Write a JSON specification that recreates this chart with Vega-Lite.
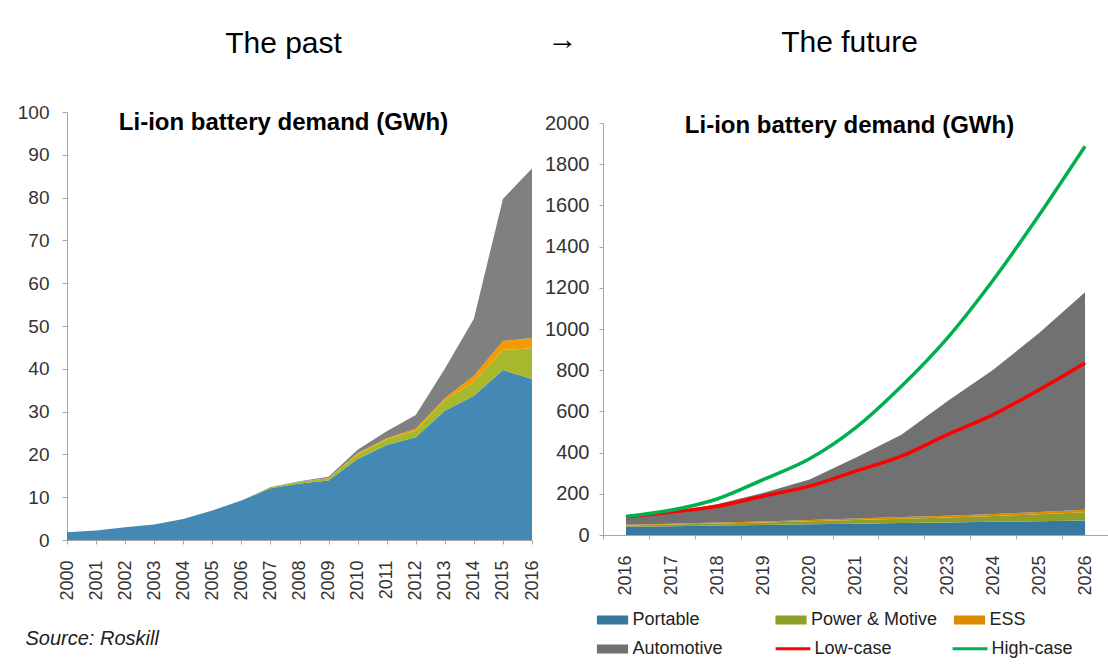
{
  "$schema": "https://vega.github.io/schema/vega-lite/v6.json",
  "background": "white",
  "padding": {"left": 17, "top": 25, "right": 0, "bottom": 0},
  "config": {
    "view": {"stroke": null},
    "font": "Liberation Sans",
    "title": {"font": "Liberation Sans", "color": "#000000", "subtitleFont": "Liberation Sans", "subtitleColor": "#000000"},
    "axis": {"domainColor": "#a6a6a6", "tickColor": "#a6a6a6", "labelColor": "#333333", "grid": false, "labelFont": "Liberation Sans"}
  },
  "datasets": {
    "past": [
      {"year": "2000", "series": "Portable", "k": 1, "value": 1.8}, {"year": "2000", "series": "Power & Motive", "k": 2, "value": 0}, {"year": "2000", "series": "ESS", "k": 3, "value": 0}, {"year": "2000", "series": "Automotive", "k": 4, "value": 0},
      {"year": "2001", "series": "Portable", "k": 1, "value": 2.2}, {"year": "2001", "series": "Power & Motive", "k": 2, "value": 0}, {"year": "2001", "series": "ESS", "k": 3, "value": 0}, {"year": "2001", "series": "Automotive", "k": 4, "value": 0},
      {"year": "2002", "series": "Portable", "k": 1, "value": 3.0}, {"year": "2002", "series": "Power & Motive", "k": 2, "value": 0}, {"year": "2002", "series": "ESS", "k": 3, "value": 0}, {"year": "2002", "series": "Automotive", "k": 4, "value": 0},
      {"year": "2003", "series": "Portable", "k": 1, "value": 3.6}, {"year": "2003", "series": "Power & Motive", "k": 2, "value": 0}, {"year": "2003", "series": "ESS", "k": 3, "value": 0}, {"year": "2003", "series": "Automotive", "k": 4, "value": 0},
      {"year": "2004", "series": "Portable", "k": 1, "value": 4.9}, {"year": "2004", "series": "Power & Motive", "k": 2, "value": 0}, {"year": "2004", "series": "ESS", "k": 3, "value": 0}, {"year": "2004", "series": "Automotive", "k": 4, "value": 0},
      {"year": "2005", "series": "Portable", "k": 1, "value": 6.9}, {"year": "2005", "series": "Power & Motive", "k": 2, "value": 0}, {"year": "2005", "series": "ESS", "k": 3, "value": 0}, {"year": "2005", "series": "Automotive", "k": 4, "value": 0},
      {"year": "2006", "series": "Portable", "k": 1, "value": 9.2}, {"year": "2006", "series": "Power & Motive", "k": 2, "value": 0}, {"year": "2006", "series": "ESS", "k": 3, "value": 0}, {"year": "2006", "series": "Automotive", "k": 4, "value": 0},
      {"year": "2007", "series": "Portable", "k": 1, "value": 12.1}, {"year": "2007", "series": "Power & Motive", "k": 2, "value": 0.3}, {"year": "2007", "series": "ESS", "k": 3, "value": 0}, {"year": "2007", "series": "Automotive", "k": 4, "value": 0},
      {"year": "2008", "series": "Portable", "k": 1, "value": 13.2}, {"year": "2008", "series": "Power & Motive", "k": 2, "value": 0.4}, {"year": "2008", "series": "ESS", "k": 3, "value": 0}, {"year": "2008", "series": "Automotive", "k": 4, "value": 0.1},
      {"year": "2009", "series": "Portable", "k": 1, "value": 13.9}, {"year": "2009", "series": "Power & Motive", "k": 2, "value": 0.5}, {"year": "2009", "series": "ESS", "k": 3, "value": 0.1}, {"year": "2009", "series": "Automotive", "k": 4, "value": 0.3},
      {"year": "2010", "series": "Portable", "k": 1, "value": 18.9}, {"year": "2010", "series": "Power & Motive", "k": 2, "value": 1.1}, {"year": "2010", "series": "ESS", "k": 3, "value": 0.3}, {"year": "2010", "series": "Automotive", "k": 4, "value": 0.8},
      {"year": "2011", "series": "Portable", "k": 1, "value": 22.2}, {"year": "2011", "series": "Power & Motive", "k": 2, "value": 1.3}, {"year": "2011", "series": "ESS", "k": 3, "value": 0.3}, {"year": "2011", "series": "Automotive", "k": 4, "value": 1.6},
      {"year": "2012", "series": "Portable", "k": 1, "value": 24.0}, {"year": "2012", "series": "Power & Motive", "k": 2, "value": 1.6}, {"year": "2012", "series": "ESS", "k": 3, "value": 0.4}, {"year": "2012", "series": "Automotive", "k": 4, "value": 3.2},
      {"year": "2013", "series": "Portable", "k": 1, "value": 30.2}, {"year": "2013", "series": "Power & Motive", "k": 2, "value": 2.4}, {"year": "2013", "series": "ESS", "k": 3, "value": 0.5}, {"year": "2013", "series": "Automotive", "k": 4, "value": 6.9},
      {"year": "2014", "series": "Portable", "k": 1, "value": 33.7}, {"year": "2014", "series": "Power & Motive", "k": 2, "value": 3.3}, {"year": "2014", "series": "ESS", "k": 3, "value": 1.4}, {"year": "2014", "series": "Automotive", "k": 4, "value": 13.3},
      {"year": "2015", "series": "Portable", "k": 1, "value": 39.7}, {"year": "2015", "series": "Power & Motive", "k": 2, "value": 4.7}, {"year": "2015", "series": "ESS", "k": 3, "value": 2.1}, {"year": "2015", "series": "Automotive", "k": 4, "value": 33.2},
      {"year": "2016", "series": "Portable", "k": 1, "value": 37.6}, {"year": "2016", "series": "Power & Motive", "k": 2, "value": 7.2}, {"year": "2016", "series": "ESS", "k": 3, "value": 2.4}, {"year": "2016", "series": "Automotive", "k": 4, "value": 39.6}
    ],
    "future": [
      {"year": "2016", "series": "Portable", "k": 1, "value": 40}, {"year": "2016", "series": "Power & Motive", "k": 2, "value": 6}, {"year": "2016", "series": "ESS", "k": 3, "value": 4}, {"year": "2016", "series": "Automotive", "k": 4, "value": 37},
      {"year": "2017", "series": "Portable", "k": 1, "value": 43}, {"year": "2017", "series": "Power & Motive", "k": 2, "value": 8}, {"year": "2017", "series": "ESS", "k": 3, "value": 4}, {"year": "2017", "series": "Automotive", "k": 4, "value": 57},
      {"year": "2018", "series": "Portable", "k": 1, "value": 46}, {"year": "2018", "series": "Power & Motive", "k": 2, "value": 10}, {"year": "2018", "series": "ESS", "k": 3, "value": 5}, {"year": "2018", "series": "Automotive", "k": 4, "value": 89},
      {"year": "2019", "series": "Portable", "k": 1, "value": 49}, {"year": "2019", "series": "Power & Motive", "k": 2, "value": 12}, {"year": "2019", "series": "ESS", "k": 3, "value": 5}, {"year": "2019", "series": "Automotive", "k": 4, "value": 139},
      {"year": "2020", "series": "Portable", "k": 1, "value": 52}, {"year": "2020", "series": "Power & Motive", "k": 2, "value": 15}, {"year": "2020", "series": "ESS", "k": 3, "value": 6}, {"year": "2020", "series": "Automotive", "k": 4, "value": 197},
      {"year": "2021", "series": "Portable", "k": 1, "value": 55}, {"year": "2021", "series": "Power & Motive", "k": 2, "value": 18}, {"year": "2021", "series": "ESS", "k": 3, "value": 7}, {"year": "2021", "series": "Automotive", "k": 4, "value": 295},
      {"year": "2022", "series": "Portable", "k": 1, "value": 58}, {"year": "2022", "series": "Power & Motive", "k": 2, "value": 21}, {"year": "2022", "series": "ESS", "k": 3, "value": 8}, {"year": "2022", "series": "Automotive", "k": 4, "value": 400},
      {"year": "2023", "series": "Portable", "k": 1, "value": 61}, {"year": "2023", "series": "Power & Motive", "k": 2, "value": 24}, {"year": "2023", "series": "ESS", "k": 3, "value": 9}, {"year": "2023", "series": "Automotive", "k": 4, "value": 555},
      {"year": "2024", "series": "Portable", "k": 1, "value": 64}, {"year": "2024", "series": "Power & Motive", "k": 2, "value": 28}, {"year": "2024", "series": "ESS", "k": 3, "value": 10}, {"year": "2024", "series": "Automotive", "k": 4, "value": 700},
      {"year": "2025", "series": "Portable", "k": 1, "value": 67}, {"year": "2025", "series": "Power & Motive", "k": 2, "value": 34}, {"year": "2025", "series": "ESS", "k": 3, "value": 11}, {"year": "2025", "series": "Automotive", "k": 4, "value": 868},
      {"year": "2026", "series": "Portable", "k": 1, "value": 70}, {"year": "2026", "series": "Power & Motive", "k": 2, "value": 40}, {"year": "2026", "series": "ESS", "k": 3, "value": 13}, {"year": "2026", "series": "Automotive", "k": 4, "value": 1055}
    ],
    "cases": [
      {"year": "2016", "series": "Low-case", "value": 88}, {"year": "2017", "series": "Low-case", "value": 111}, {"year": "2018", "series": "Low-case", "value": 140}, {"year": "2019", "series": "Low-case", "value": 189}, {"year": "2020", "series": "Low-case", "value": 237}, {"year": "2021", "series": "Low-case", "value": 310}, {"year": "2022", "series": "Low-case", "value": 383}, {"year": "2023", "series": "Low-case", "value": 487}, {"year": "2024", "series": "Low-case", "value": 584}, {"year": "2025", "series": "Low-case", "value": 705}, {"year": "2026", "series": "Low-case", "value": 835},
      {"year": "2016", "series": "High-case", "value": 90}, {"year": "2017", "series": "High-case", "value": 121}, {"year": "2018", "series": "High-case", "value": 176}, {"year": "2019", "series": "High-case", "value": 270}, {"year": "2020", "series": "High-case", "value": 370}, {"year": "2021", "series": "High-case", "value": 520}, {"year": "2022", "series": "High-case", "value": 722}, {"year": "2023", "series": "High-case", "value": 956}, {"year": "2024", "series": "High-case", "value": 1238}, {"year": "2025", "series": "High-case", "value": 1553}, {"year": "2026", "series": "High-case", "value": 1887}
    ],
    "blank": [{"v": ""}]
  },
  "bounds": "flush",
  "spacing": 30,
  "resolve": {"scale": {"fill": "independent", "stroke": "independent", "x": "independent", "y": "independent"}},
  "hconcat": [
    {
      "width": 465,
      "height": 428,
      "title": {"text": "The past", "subtitle": "Li-ion battery demand (GWh)", "fontSize": 30, "fontWeight": "normal", "subtitleFontSize": 24, "subtitleFontWeight": "bold", "subtitlePadding": 52, "offset": -32, "anchor": "middle", "dx": -16},
      "data": {"name": "past"},
      "mark": {"type": "area", "interpolate": "linear"},
      "encoding": {
        "x": {"field": "year", "type": "ordinal", "scale": {"type": "point", "padding": 0},
          "axis": {"labelAngle": -90, "labelFontSize": 18, "labelPadding": 16, "tickSize": 4, "title": "Source: Roskill", "titleFontSize": 20, "titleFontStyle": "italic", "titleFontWeight": "normal", "titleColor": "#222222", "titleAlign": "left", "titleBaseline": "middle", "titleAnchor": "start", "titleX": -42, "titleY": 98}},
        "y": {"field": "value", "type": "quantitative", "stack": "zero", "scale": {"domain": [0, 100]},
          "axis": {"values": [0, 10, 20, 30, 40, 50, 60, 70, 80, 90, 100], "title": null, "labelFontSize": 19, "labelPadding": 13, "tickSize": 5, "labelFlush": false}},
        "fill": {"field": "series", "type": "nominal", "scale": {"domain": ["Portable", "Power & Motive", "ESS", "Automotive"], "range": ["#4389b4", "#a6b82c", "#f59b00", "#808080"]}, "legend": null},
        "order": {"field": "k", "type": "quantitative"}
      }
    },
    {
      "width": 11,
      "height": 428,
      "title": {"text": "→", "fontSize": 30, "fontWeight": "normal", "offset": 57, "anchor": "middle", "dx": -5},
      "data": {"name": "blank"},
      "mark": {"type": "text"},
      "encoding": {"text": {"field": "v", "type": "nominal"}}
    },
    {
      "bounds": "flush",
      "spacing": 10,
      "vconcat": [
        {
          "width": 505,
          "height": 1,
          "data": {"name": "blank"},
          "mark": {"type": "text"},
          "encoding": {"text": {"field": "v", "type": "nominal"}}
        },
        {
          "width": 505,
          "height": 412,
          "title": {"text": "The future", "subtitle": "Li-ion battery demand (GWh)", "fontSize": 30, "fontWeight": "normal", "subtitleFontSize": 24, "subtitleFontWeight": "bold", "subtitlePadding": 56, "offset": -25, "anchor": "middle", "dx": -6},
          "resolve": {"scale": {"fill": "independent", "stroke": "independent"}, "legend": {"fill": "independent", "stroke": "independent"}},
          "encoding": {
            "x": {"field": "year", "type": "ordinal", "scale": {"type": "band", "paddingInner": 0, "paddingOuter": 0}, "bandPosition": 0.5,
              "axis": {"labelAngle": -90, "labelFontSize": 18, "labelPadding": 16, "tickSize": 4, "tickBand": "extent", "title": null}},
            "y": {"field": "value", "type": "quantitative", "scale": {"domain": [0, 2000]},
              "axis": {"values": [0, 200, 400, 600, 800, 1000, 1200, 1400, 1600, 1800, 2000], "format": "d", "title": null, "labelFontSize": 20, "labelPadding": 10, "tickSize": 4, "labelFlush": false}}
          },
          "layer": [
            {
              "data": {"name": "future"},
              "mark": {"type": "area", "interpolate": "linear"},
              "encoding": {
                "y": {"field": "value", "type": "quantitative", "stack": "zero"},
                "fill": {"field": "series", "type": "nominal", "scale": {"domain": ["Portable", "Power & Motive", "ESS", "Automotive"], "range": ["#36789f", "#8fa02a", "#df8a00", "#717171"]},
                  "legend": {"orient": "none", "legendX": -2.5, "legendY": 485, "direction": "horizontal", "columns": 3, "gridAlign": "all", "columnPadding": 15.5, "rowPadding": 8, "padding": 0, "title": null, "symbolType": "M-1.3,-0.375L1.3,-0.375L1.3,0.375L-1.3,0.375Z", "symbolSize": 576, "symbolStrokeWidth": 0, "labelFontSize": 18, "labelOffset": 8, "labelColor": "#222222", "labelFont": "Liberation Sans"}},
                "order": {"field": "k", "type": "quantitative"}
              }
            },
            {
              "data": {"name": "cases"},
              "mark": {"type": "line", "interpolate": "monotone", "strokeWidth": 3.5},
              "encoding": {
                "stroke": {"field": "series", "type": "nominal", "scale": {"domain": ["Low-case", "High-case"], "range": ["#ff0000", "#00b050"]},
                  "legend": {"orient": "none", "legendX": 176.5, "legendY": 512, "direction": "horizontal", "columns": 2, "gridAlign": "all", "columnPadding": 50, "padding": 0, "title": null, "symbolType": "M-1.45,0L1.45,0", "symbolSize": 576, "symbolStrokeWidth": 3, "labelFontSize": 18, "labelOffset": 8, "labelColor": "#222222", "labelFont": "Liberation Sans"}}
              }
            }
          ]
        }
      ]
    }
  ]
}
